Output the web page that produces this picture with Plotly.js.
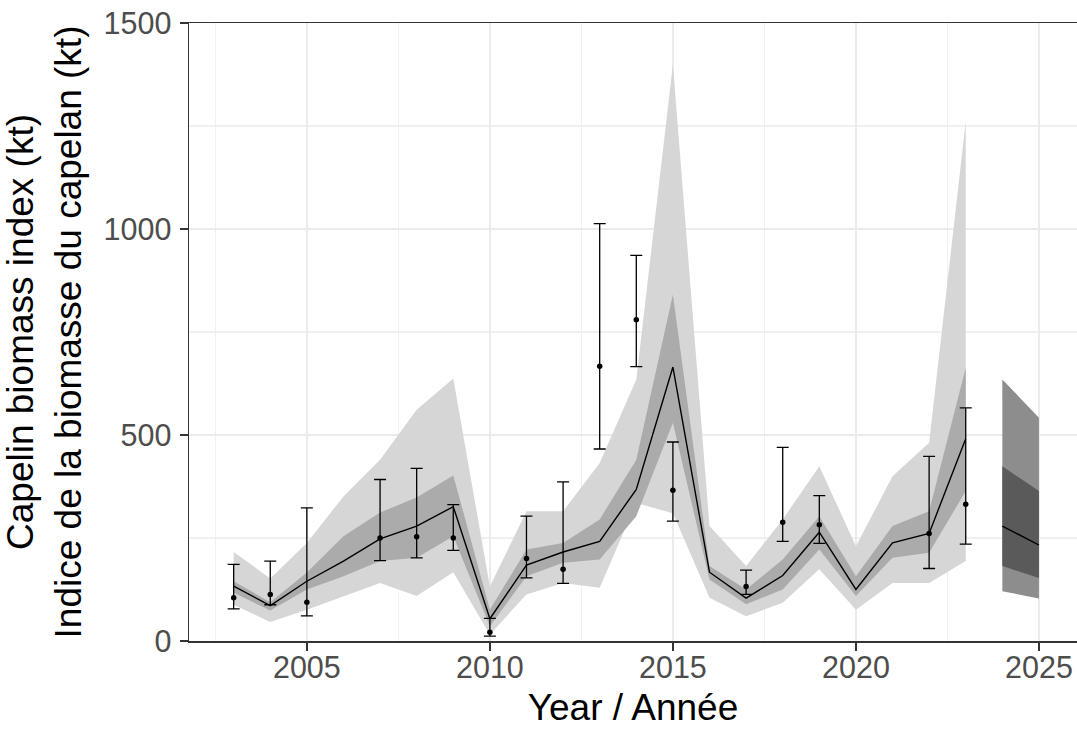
<!DOCTYPE html>
<html>
<head>
<meta charset="utf-8">
<script src="https://cdn.plot.ly/plotly-3.0.1.min.js"></script>
<style>html,body{margin:0;padding:0;background:#fff;}#chart{width:1077px;height:729px;}</style>
</head>
<body>
<div id="chart"></div>
<script>
// Model estimates (historical)
const years = [2003,2004,2005,2006,2007,2008,2009,2010,2011,2012,2013,2014,2015,2016,2017,2018,2019,2020,2021,2022,2023];
const estimate = [133,86,145,194,248,279,326,54,184,216,242,368,665,167,104,159,264,125,238,261,491];
const outerLow = [88,46,76,109,141,109,167,16,113,141,129,335,310,105,60,93,174,76,141,141,194];
const outerHigh = [216,152,238,351,440,561,637,132,315,315,432,635,1399,279,182,295,424,230,400,481,1261];
const innerLow = [117,74,125,157,194,202,254,36,157,190,198,303,530,149,89,125,222,109,202,214,364];
const innerHigh = [145,94,166,254,312,348,402,76,222,238,295,440,841,182,125,198,303,157,279,315,663];

// Projection
const projYears = [2024,2025];
const projEstimate = [279,233];
const projOuterLow = [121,103];
const projOuterHigh = [635,542];
const projInnerLow = [182,153];
const projInnerHigh = [424,364];

// Observed survey index with error bars
const obsYears = [2003,2004,2005,2007,2008,2009,2010,2011,2012,2013,2014,2015,2017,2018,2019,2022,2023];
const obsValue = [105,113,94,250,253,250,21,200,174,667,780,366,132,288,282,261,332];
const obsHigh = [186,194,323,392,419,331,55,303,386,1013,936,483,172,470,353,448,566];
const obsLow = [78,88,61,195,202,220,12,153,140,466,666,291,113,242,237,176,235];

const xTicks = [2005,2010,2015,2020,2025];
const yTicks = [0,500,1000,1500];

function band(x, lo, hi, color) {
  return [
    {x: x, y: lo, type: 'scatter', mode: 'lines', line: {width: 0, color: color}, hoverinfo: 'skip', showlegend: false},
    {x: x, y: hi, type: 'scatter', mode: 'lines', line: {width: 0, color: color}, fill: 'tonexty', fillcolor: color, hoverinfo: 'skip', showlegend: false}
  ];
}

const traces = []
  .concat(band(years, outerLow, outerHigh, 'rgb(214,214,214)'))
  .concat(band(years, innerLow, innerHigh, 'rgb(171,171,171)'))
  .concat(band(projYears, projOuterLow, projOuterHigh, 'rgb(141,141,141)'))
  .concat(band(projYears, projInnerLow, projInnerHigh, 'rgb(90,90,90)'));

traces.push({x: years, y: estimate, type: 'scatter', mode: 'lines', line: {color: '#000', width: 1.4}, showlegend: false});
traces.push({x: projYears, y: projEstimate, type: 'scatter', mode: 'lines', line: {color: '#000', width: 1.4}, showlegend: false});
traces.push({
  x: obsYears, y: obsValue, type: 'scatter', mode: 'markers',
  marker: {color: '#000', size: 5.5},
  error_y: {type: 'data', symmetric: false,
    array: obsHigh.map((h, i) => h - obsValue[i]),
    arrayminus: obsValue.map((v, i) => v - obsLow[i]),
    color: '#000', thickness: 1.3, width: 6},
  showlegend: false
});

const layout = {
  width: 1077, height: 729,
  margin: {l: 189, r: 0, t: 23, b: 88},
  paper_bgcolor: '#fff', plot_bgcolor: '#fff',
  font: {family: 'Liberation Sans, Arial, sans-serif'},
  showlegend: false,
  xaxis: {
    range: [2001.78, 2026.04],
    tickvals: xTicks, ticktext: xTicks.map(String),
    showgrid: true, gridcolor: '#ebebeb', gridwidth: 2.4,
    minor: {dtick: 2.5, tick0: 2002.5, showgrid: true, gridcolor: '#f0f0f0', gridwidth: 1.3, ticks: ''},
    zeroline: false,
    showline: true, linecolor: '#333', linewidth: 1.5, mirror: true,
    ticks: 'outside', ticklen: 8, tickwidth: 2, tickcolor: '#333',
    ticklabelstandoff: -9,
    tickfont: {size: 30.5, color: '#4d4d4d', family: 'Liberation Sans, Arial, sans-serif'},
    title: {text: 'Year / Année', font: {size: 37, color: '#000', family: 'Liberation Sans, Arial, sans-serif'}, standoff: 11}
  },
  yaxis: {
    range: [0, 1500],
    tickvals: yTicks, ticktext: yTicks.map(String),
    showgrid: true, gridcolor: '#ebebeb', gridwidth: 2.4,
    minor: {dtick: 250, tick0: 0, showgrid: true, gridcolor: '#f0f0f0', gridwidth: 1.3, ticks: ''},
    zeroline: false,
    showline: true, linecolor: '#333', linewidth: 1.5,
    ticks: 'outside', ticklen: 8, tickwidth: 2, tickcolor: '#333',
    ticklabelstandoff: 2,
    tickfont: {size: 30.5, color: '#4d4d4d', family: 'Liberation Sans, Arial, sans-serif'},
    title: {text: 'Capelin biomass index (kt)<br>Indice de la biomasse du capelan (kt)', font: {size: 37, color: '#000', family: 'Liberation Sans, Arial, sans-serif'}, standoff: 10}
  }
};

Plotly.newPlot('chart', traces, layout, {displayModeBar: false, staticPlot: true});
</script>
</body>
</html>
